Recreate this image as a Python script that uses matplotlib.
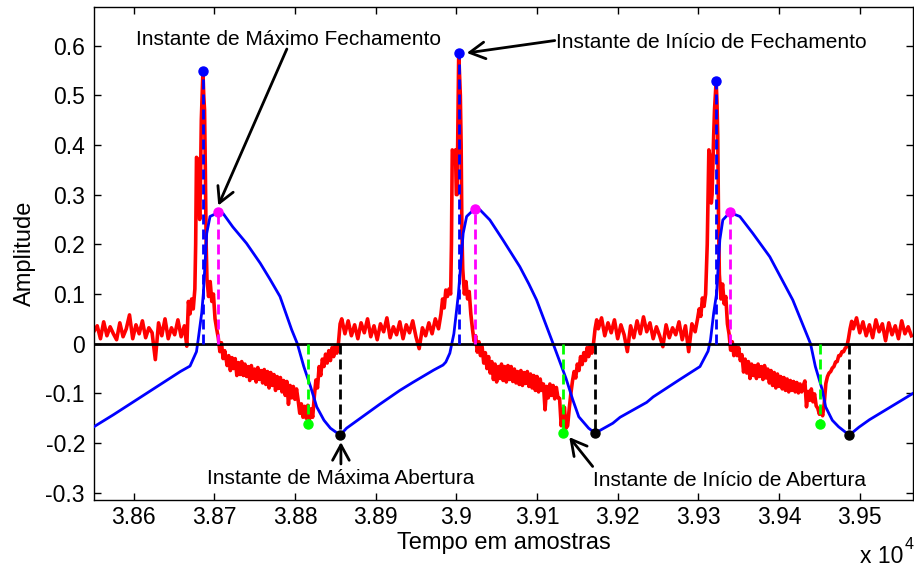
import numpy as np
import matplotlib
matplotlib.use("Agg")
import matplotlib.pyplot as plt

plt.rcParams["font.family"] = ["Liberation Sans", "DejaVu Sans"]
plt.rcParams["axes.unicode_minus"] = False

# fluxo glotal (azul): pontos (amostra, amplitude)
blue_t = [38551, 38575, 38617, 38658, 38670, 38678, 38680, 38684.5, 38686.5, 38690.7,
          38694.8, 38705, 38711, 38723, 38740, 38757, 38769, 38781.5, 38796, 38803,
          38811, 38819.5, 38827, 38836, 38844, 38856, 38864, 38905, 38930, 38946,
          38972, 38983.5, 38987, 38992, 38997, 39000.4, 39002.6, 39008.5, 39012.8, 39023,
          39029, 39041.6, 39057.7, 39078.7, 39090, 39099.5, 39120, 39136, 39144.4, 39151.8,
          39164, 39172, 39194, 39203, 39236, 39244, 39277, 39302, 39312, 39315,
          39319, 39322.5, 39326.6, 39330.3, 39339, 39351.4, 39367.5, 39388.5, 39417, 39439,
          39445, 39453.6, 39457.7, 39466, 39473.7, 39487, 39499, 39512, 39566]
blue_v = [-0.167, -0.143, -0.099, -0.056, -0.045, -0.016, 0.007, 0.062, 0.101, 0.222,
          0.256, 0.264, 0.262, 0.235, 0.202, 0.162, 0.130, 0.095, 0.028, 0.000,
          -0.046, -0.087, -0.127, -0.154, -0.170, -0.184, -0.170, -0.122, -0.094, -0.078,
          -0.053, -0.043, -0.037, -0.019, 0.020, 0.068, 0.100, 0.222, 0.256, 0.272,
          0.270, 0.249, 0.209, 0.155, 0.120, 0.088, 0.000, -0.070, -0.113, -0.147,
          -0.170, -0.180, -0.160, -0.148, -0.118, -0.107, -0.072, -0.046, -0.015, 0.007,
          0.062, 0.100, 0.209, 0.249, 0.264, 0.256, 0.222, 0.175, 0.088, 0.000,
          -0.046, -0.093, -0.127, -0.154, -0.167, -0.184, -0.168, -0.153, -0.100]

# sinal EGG (vermelho): trechos de repouso amostrados a cada 4 amostras
rest_a = [0.025, 0.036, 0.010, 0.044, 0.016, 0.034, 0.020, 0.008, 0.042, 0.014,
          0.030, 0.058, 0.010, 0.038, 0.020, 0.046, 0.012, 0.032, 0.022, -0.032,
          0.042, 0.016, 0.050, 0.010, 0.032, 0.018, 0.048, 0.014, 0.036]
rest_b = [0.050, 0.020, 0.046, 0.016, 0.038, 0.010, 0.042, 0.022, 0.050, 0.014,
          0.036, 0.008, 0.040, 0.024, 0.052, 0.012, 0.034, 0.018, 0.044, 0.010,
          0.038, 0.022, 0.046, 0.014, -0.010, 0.032, 0.016, 0.042, 0.020, 0.050,
          0.030]
rest_c = [0.030, 0.052, 0.016, 0.042, 0.022, 0.048, 0.010, 0.038, 0.018, -0.016,
          0.036, 0.012, 0.046, 0.020, 0.054, 0.024, 0.042, 0.010, 0.034, 0.016,
          -0.006, 0.038, 0.012, 0.032, 0.018, 0.044, 0.008, 0.036, -0.016, 0.040,
          0.024]
rest_d = [0.030, 0.052, 0.022, 0.044, 0.016, 0.038, 0.012, 0.048, 0.024, 0.040,
          0.006, 0.042, 0.018, 0.036, 0.010, 0.046, 0.020, 0.034, 0.016]
rest_start = [38551, 38858, 39176, 39492]

# ciclos de fechamento/abertura (amostra, amplitude)
pulse_1 = [(38666, -0.005), (38668, 0.085), (38670, 0.060), (38672, 0.090), (38674, 0.070),
           (38676, 0.110), (38677, 0.200), (38678, 0.375), (38680, 0.370), (38681, 0.300),
           (38682, 0.250), (38683, 0.330), (38684, 0.450), (38686, 0.548), (38687, 0.500),
           (38688, 0.470), (38689, 0.350), (38690, 0.200), (38691, 0.130), (38693, 0.095),
           (38695, 0.125), (38697, 0.085), (38699, 0.100), (38701, 0.050), (38703, 0.030),
           (38705, 0.012), (38707, -0.016), (38709, 0.002), (38711, -0.030), (38713, -0.014),
           (38716, -0.044), (38718, -0.024), (38720, -0.054), (38722, -0.028), (38724, -0.050),
           (38726, -0.030), (38728, -0.064), (38730, -0.038), (38732, -0.062), (38734, -0.036),
           (38736, -0.064), (38738, -0.041), (38740, -0.066), (38742, -0.046), (38744, -0.074),
           (38746, -0.044), (38748, -0.070), (38750, -0.051), (38752, -0.077), (38754, -0.048),
           (38756, -0.072), (38758, -0.054), (38760, -0.079), (38762, -0.052), (38764, -0.082),
           (38766, -0.056), (38768, -0.089), (38770, -0.058), (38772, -0.084), (38774, -0.062),
           (38776, -0.094), (38778, -0.066), (38780, -0.090), (38782, -0.068), (38784, -0.097),
           (38786, -0.074), (38788, -0.104), (38790, -0.076), (38792, -0.122), (38794, -0.084),
           (38796, -0.109), (38798, -0.086), (38800, -0.112), (38802, -0.091), (38804, -0.114),
           (38806, -0.140), (38808, -0.121), (38810, -0.148), (38812, -0.126), (38814, -0.150),
           (38816, -0.124), (38818, -0.152), (38820, -0.131), (38822, -0.148), (38824, -0.107),
           (38826, -0.073), (38828, -0.089), (38830, -0.046), (38832, -0.064), (38834, -0.031),
           (38836, -0.046), (38838, -0.021), (38840, -0.039), (38842, -0.014), (38844, -0.034),
           (38846, -0.008), (38848, -0.026), (38850, -0.004), (38852, -0.019), (38854, 0.002),
           (38856, 0.040)]
pulse_2 = [(38981, 0.060), (38983, 0.090), (38985, 0.072), (38987, 0.108), (38989, 0.095),
           (38991, 0.110), (38993, 0.100), (38994, 0.200), (38995, 0.390), (38997, 0.385),
           (38999, 0.390), (39000, 0.300), (39001, 0.300), (39002, 0.450), (39003, 0.585),
           (39004, 0.540), (39005, 0.500), (39006, 0.400), (39007, 0.220), (39008, 0.150),
           (39010, 0.100), (39012, 0.125), (39014, 0.090), (39016, 0.105), (39018, 0.060),
           (39020, 0.030), (39022, 0.005), (39024, 0.016), (39026, -0.017), (39028, 0.004),
           (39030, -0.024), (39032, -0.006), (39034, -0.039), (39036, -0.018), (39038, -0.050),
           (39040, -0.026), (39042, -0.059), (39044, -0.036), (39046, -0.072), (39048, -0.041),
           (39050, -0.077), (39052, -0.046), (39054, -0.070), (39056, -0.041), (39058, -0.074),
           (39060, -0.046), (39062, -0.077), (39064, -0.044), (39066, -0.072), (39068, -0.046),
           (39070, -0.076), (39072, -0.051), (39074, -0.079), (39076, -0.056), (39078, -0.082),
           (39080, -0.054), (39082, -0.084), (39084, -0.058), (39086, -0.080), (39088, -0.056),
           (39090, -0.086), (39092, -0.061), (39094, -0.089), (39096, -0.064), (39098, -0.094),
           (39100, -0.066), (39102, -0.097), (39104, -0.071), (39106, -0.094), (39108, -0.081),
           (39110, -0.133), (39112, -0.086), (39114, -0.109), (39116, -0.081), (39118, -0.104),
           (39120, -0.084), (39122, -0.111), (39124, -0.088), (39126, -0.109), (39128, -0.110),
           (39130, -0.165), (39132, -0.140), (39134, -0.128), (39136, -0.170), (39138, -0.165),
           (39140, -0.130), (39142, -0.100), (39144, -0.075), (39146, -0.056), (39148, -0.069),
           (39150, -0.041), (39152, -0.054), (39154, -0.026), (39156, -0.042), (39158, -0.018),
           (39160, -0.034), (39162, -0.008), (39164, -0.026), (39166, -0.004), (39168, -0.019),
           (39170, 0.000), (39172, 0.030), (39174, 0.048)]
pulse_3 = [(39299, 0.050), (39301, 0.070), (39303, 0.055), (39305, 0.092), (39307, 0.075),
           (39309, 0.100), (39311, 0.200), (39313, 0.390), (39315, 0.370), (39316, 0.283),
           (39317, 0.300), (39319, 0.420), (39320, 0.470), (39322, 0.528), (39323, 0.490),
           (39324, 0.420), (39325, 0.250), (39326, 0.140), (39328, 0.090), (39330, 0.120),
           (39332, 0.080), (39334, 0.095), (39336, 0.040), (39338, 0.020), (39340, -0.013),
           (39342, 0.004), (39344, -0.024), (39346, -0.004), (39348, -0.024), (39350, -0.008),
           (39352, -0.034), (39354, -0.022), (39356, -0.057), (39358, -0.031), (39360, -0.059),
           (39362, -0.036), (39364, -0.070), (39366, -0.041), (39368, -0.064), (39370, -0.044),
           (39372, -0.070), (39374, -0.041), (39376, -0.066), (39378, -0.046), (39380, -0.072),
           (39382, -0.044), (39384, -0.069), (39386, -0.051), (39388, -0.079), (39390, -0.054),
           (39392, -0.084), (39394, -0.058), (39396, -0.089), (39398, -0.061), (39400, -0.086),
           (39402, -0.066), (39404, -0.091), (39406, -0.068), (39408, -0.094), (39410, -0.071),
           (39412, -0.097), (39414, -0.074), (39416, -0.094), (39418, -0.076), (39420, -0.097),
           (39422, -0.078), (39424, -0.099), (39426, -0.081), (39428, -0.097), (39430, -0.084),
           (39432, -0.075), (39434, -0.127), (39436, -0.096), (39438, -0.114), (39440, -0.091),
           (39442, -0.117), (39444, -0.101), (39446, -0.125), (39448, -0.130), (39450, -0.142),
           (39452, -0.130), (39454, -0.145), (39456, -0.120), (39458, -0.080), (39460, -0.066),
           (39462, -0.059), (39464, -0.056), (39466, -0.049), (39468, -0.046), (39470, -0.037),
           (39472, -0.036), (39474, -0.024), (39476, -0.024), (39478, -0.016), (39480, -0.016),
           (39482, -0.009), (39484, -0.006), (39486, 0.010), (39488, 0.030), (39490, 0.045)]

# instantes marcados em cada ciclo
ini_fech_t = [38686, 39003, 39322]
ini_fech_v = [0.548, 0.585, 0.528]
max_fech_t = [38705, 39023, 39339]
max_fech_v = [0.264, 0.272, 0.264]
ini_abert_t = [38816, 39132, 39451]
ini_abert_v = [-0.162, -0.180, -0.162]
max_abert_t = [38856, 39172, 39487]
max_abert_v = [-0.184, -0.180, -0.184]

x_ticks = [38600, 38700, 38800, 38900, 39000, 39100, 39200, 39300, 39400, 39500]
y_ticks = [-0.3, -0.2, -0.1, 0, 0.1, 0.2, 0.3, 0.4, 0.5, 0.6]


def rest_segment(start, values):
    return np.arange(len(values)) * 4 + start, np.array(values)


segments = []
rests = [rest_a, rest_b, rest_c, rest_d]
pulses = [pulse_1, pulse_2, pulse_3, []]
for start, rest, pulse in zip(rest_start, rests, pulses):
    segments.append(rest_segment(start, rest))
    if pulse:
        pt, pv = zip(*pulse)
        segments.append((np.array(pt), np.array(pv)))
red_t = np.concatenate([s[0] for s in segments])
red_v = np.concatenate([s[1] for s in segments])

fig = plt.figure(figsize=(9.14, 5.67), dpi=100)
ax = fig.add_axes([94 / 914, 67 / 567, 819 / 914, 493 / 567])

ax.plot(red_t, red_v, color="#ff0000", lw=2.6, zorder=2)
ax.plot(blue_t, blue_v, color="#0000ff", lw=2.0, zorder=3)
ax.axhline(0, color="k", lw=2, zorder=4)

# linhas tracejadas de cada instante ate o zero
marks = [(ini_fech_t, ini_fech_v, "#0000ff"),
         (max_fech_t, max_fech_v, "#ff00ff"),
         (ini_abert_t, ini_abert_v, "#00ff00"),
         (max_abert_t, max_abert_v, "k")]
for ts, vs, c in marks:
    for t, v in zip(ts, vs):
        ax.plot([t, t], [0, v], color=c, lw=2, dashes=(3.6, 1.8), zorder=5)
for ts, vs, c in marks:
    ax.plot(ts, vs, "o", color=c, ms=6.5, zorder=6)

arrow = dict(arrowstyle="->,head_length=0.55,head_width=0.3", lw=2, color="k",
             shrinkA=0, shrinkB=0, mutation_scale=20)
fs_ann = 15
ax.text(38792, 0.602, "Instante de Máximo Fechamento", fontsize=fs_ann, ha="center", va="baseline")
ax.annotate("", xy=(38705, 0.278), xytext=(38790, 0.593), arrowprops=arrow)
ax.text(39123, 0.594, "Instante de Início de Fechamento", fontsize=fs_ann, ha="left", va="baseline")
ax.annotate("", xy=(39013, 0.585), xytext=(39122, 0.61), arrowprops=arrow)
ax.text(38857, -0.283, "Instante de Máxima Abertura", fontsize=fs_ann, ha="center", va="baseline")
ax.annotate("", xy=(38857, -0.198), xytext=(38857, -0.242), arrowprops=arrow)
ax.text(39170, -0.286, "Instante de Início de Abertura", fontsize=fs_ann, ha="left", va="baseline")
ax.annotate("", xy=(39140, -0.188), xytext=(39169, -0.247), arrowprops=arrow)

ax.set_xlim(38551, 39566)
ax.set_ylim(-0.3145, 0.6775)
ax.set_xticks(x_ticks)
ax.set_xticklabels([f"{t / 1e4:g}" for t in x_ticks])
ax.set_yticks(y_ticks)
ax.set_yticklabels([f"{v:g}" for v in y_ticks])
ax.tick_params(direction="in", length=5, width=1, top=True, right=True, labelsize=16.5)
ax.tick_params(axis="x", pad=4.5)
ax.tick_params(axis="y", pad=6.5)
for sp in ax.spines.values():
    sp.set_linewidth(1)

ax.set_xlabel("Tempo em amostras", fontsize=17, labelpad=2)
ax.set_ylabel("Amplitude", fontsize=17, labelpad=7)

fig.text(860.5 / 914, 4 / 567, "x 10", fontsize=16.5, ha="left", va="baseline")
fig.text(905 / 914, 18 / 567, "4", fontsize=11.5, ha="left", va="baseline")

fig.savefig("out.png", dpi=100)
